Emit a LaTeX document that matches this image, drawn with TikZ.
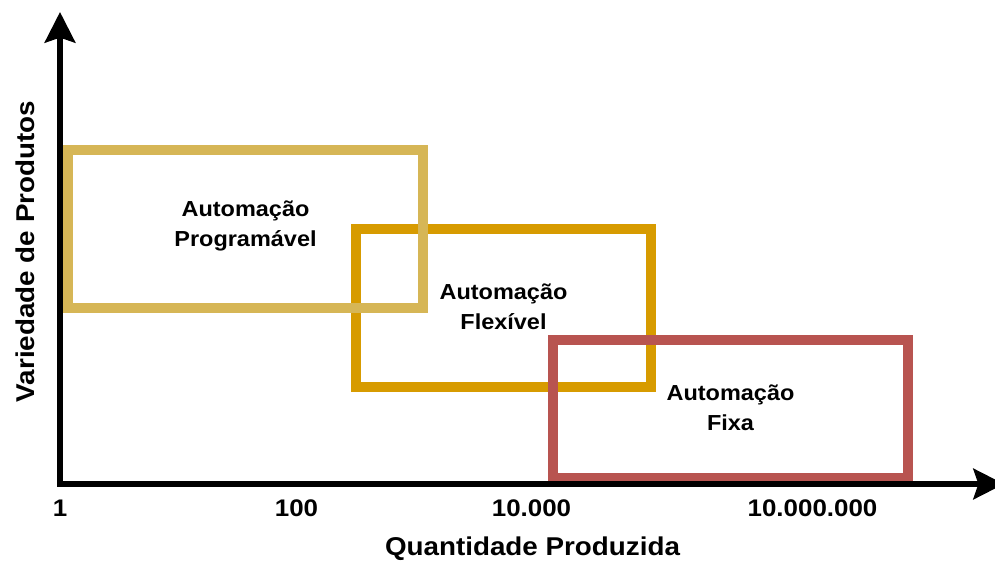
\documentclass[tikz,border=0pt]{standalone}
\usepackage{fontspec}
\setmainfont{Liberation Sans}[FakeStretch=1.08]
\usetikzlibrary{arrows.meta}
\definecolor{tanc}{HTML}{D6B656}
\definecolor{orangec}{HTML}{D79B00}
\definecolor{redc}{HTML}{B85450}
\tikzset{
  zone/.style={draw=#1, line width=7.9pt, inner sep=0pt, outer sep=0pt, fill=none},
  boxtext/.style={align=center, inner sep=0pt, font=\bfseries\fontsize{16.3}{22.5}\selectfont},
  ticklabel/.style={anchor=base, inner sep=0pt, font=\bfseries\fontsize{18}{22}\selectfont},
  axislabel/.style={anchor=base, inner sep=0pt, font=\bfseries\fontsize{19.3}{23}\selectfont},
  axisline/.style={line width=3.9pt, line join=miter, draw=black,
    {Stealth[length=23pt, width=23pt, inset=3.8pt]}-{Stealth[length=23pt, width=23pt, inset=3.8pt]}}
}
\begin{document}
\begin{tikzpicture}[x=0.75pt, y=-0.75pt]
  \path[use as bounding box, clip] (0,0) rectangle (995,560);
  % zones
  \node[zone=orangec, minimum width=295pt*0.75, minimum height=158pt*0.75] (r2) at (503.5,308) {};
  \node[zone=tanc, minimum width=355pt*0.75, minimum height=158pt*0.75] (r1) at (245.5,229) {};
  \node[zone=redc, minimum width=355pt*0.75, minimum height=138pt*0.75] (r3) at (730.5,409) {};
  % zone labels
  \node[boxtext] (t1) at (245.5,226) {Automação\\Programável};
  \node[boxtext] (t2) at (503.5,307) {Automação\\Flexível};
  \node[boxtext] (t3) at (730.5,408) {Automação\\Fixa};
  % axes
  \coordinate (ytip) at (60,12);
  \coordinate (orig) at (60,484);
  \coordinate (xtip) at (1004,484);
  \draw[axisline] (ytip) -- (orig) -- (xtip);
  % tick labels
  \node[ticklabel] (k1) at (60,516.7) {1};
  \node[ticklabel] (k2) at (296.5,516.7) {100};
  \node[ticklabel] (k3) at (531.5,516.7) {10.000};
  \node[ticklabel] (k4) at (812.5,516.7) {10.000.000};
  % axis labels
  \node[axislabel] (xl) at (532.5,555) {Quantidade Produzida};
  \node[axislabel, rotate=90] (yl) at (34,251.5) {Variedade de Produtos};
\end{tikzpicture}
\end{document}
